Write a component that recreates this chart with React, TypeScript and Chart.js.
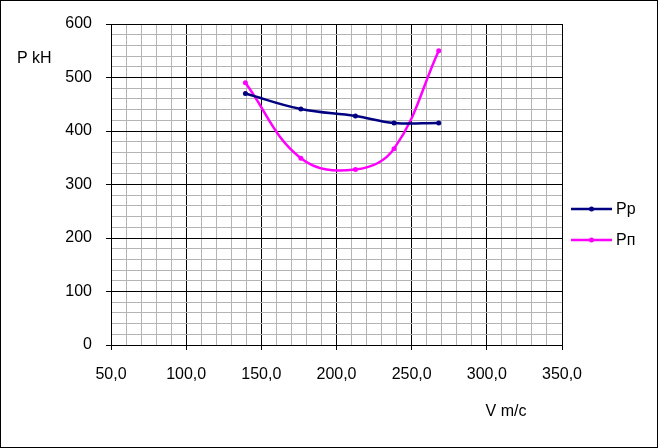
import React, { useEffect, useRef } from "react";
import { Chart, registerables } from "chart.js";

Chart.register(...registerables);

const speedV = [139.4, 176.3, 212.6, 238.3, 268.0];
const seriesPp = [470, 441, 428, 415, 415];
const seriesPn = [490, 349, 328, 367, 550];
const seriesNames = ["Pp", "Pп"];
const seriesColors = ["#000080", "#FF00FF"];
const xTitle = "V m/c";
const yTitle = "P kH";

const FONT = "'Liberation Sans', Arial, sans-serif";

const decorPlugin = {
  id: "decor",
  beforeDraw(chart: any) {
    const ctx = chart.ctx;
    ctx.save();
    ctx.fillStyle = "#ffffff";
    ctx.fillRect(0, 0, chart.width, chart.height);
    ctx.restore();
  },
  afterDraw(chart: any) {
    const ctx = chart.ctx;
    ctx.save();
    ctx.strokeStyle = "#000";
    ctx.lineWidth = 1;
    ctx.strokeRect(0.5, 0.5, chart.width - 1, chart.height - 1);
    ctx.fillStyle = "#000";
    ctx.font = `16px ${FONT}`;
    ctx.textBaseline = "middle";
    ctx.textAlign = "left";
    ctx.fillText(yTitle, 17, 59);
    ctx.textAlign = "center";
    ctx.fillText(xTitle, 506, 412);
    // legend
    const ys = [209, 240];
    seriesNames.forEach((name, i) => {
      const y = ys[i];
      ctx.strokeStyle = seriesColors[i];
      ctx.lineWidth = 2.5;
      ctx.beginPath();
      ctx.moveTo(571, y);
      ctx.lineTo(612, y);
      ctx.stroke();
      ctx.fillStyle = seriesColors[i];
      ctx.beginPath();
      ctx.arc(591.5, y, 2.5, 0, Math.PI * 2);
      ctx.fill();
      ctx.fillStyle = "#000";
      ctx.textAlign = "left";
      ctx.fillText(name, 616, y + 1);
    });
    ctx.restore();
  },
};

export default function App() {
  const ref = useRef<HTMLCanvasElement | null>(null);
  useEffect(() => {
    if (!ref.current) return;
    const mk = (vals: number[]) => speedV.map((x, i) => ({ x, y: vals[i] }));
    const chart = new Chart(ref.current, {
      type: "scatter",
      data: {
        datasets: [seriesPp, seriesPn].map((vals, i) => ({
          label: seriesNames[i],
          data: mk(vals),
          showLine: true,
          borderColor: seriesColors[i],
          backgroundColor: seriesColors[i],
          borderWidth: 2.5,
          pointRadius: 2.5,
          pointBorderWidth: 0,
          tension: 0.4,
        })),
      },
      options: {
        animation: false,
        responsive: false,
        devicePixelRatio: 1,
        layout: { padding: { left: 0, top: 24, right: 96, bottom: 0 } },
        plugins: { legend: { display: false }, tooltip: { enabled: false } },
        scales: {
          x: {
            type: "linear",
            min: 50,
            max: 350,
            afterFit: (s: any) => {
              s.height = 103;
            },
            ticks: {
              stepSize: 10,
              autoSkip: false,
              maxRotation: 0,
              padding: 15,
              color: "#000",
              font: { family: FONT, size: 16 },
              callback: (v: any) =>
                Math.round(v) % 50 === 0 ? Number(v).toFixed(1).replace(".", ",") : "",
            },
            grid: {
              color: (c: any) => (Math.round(c.tick?.value) % 50 === 0 ? "#000" : "#b4b4b4"),
              tickColor: (c: any) =>
                Math.round(c.tick?.value) % 50 === 0 ? "#000" : "rgba(0,0,0,0)",
              tickLength: 5,
              lineWidth: 1,
            },
            border: { color: "#000", width: 1 },
          },
          y: {
            min: 0,
            max: 600,
            afterFit: (s: any) => {
              s.width = 111;
            },
            ticks: {
              stepSize: 20,
              autoSkip: false,
              padding: 14,
              color: "#000",
              font: { family: FONT, size: 16 },
              callback: (v: any) => (Math.round(v) % 100 === 0 ? String(v) : ""),
            },
            grid: {
              color: (c: any) => (Math.round(c.tick?.value) % 100 === 0 ? "#000" : "#b4b4b4"),
              tickColor: (c: any) =>
                Math.round(c.tick?.value) % 100 === 0 ? "#000" : "rgba(0,0,0,0)",
              tickLength: 5,
              lineWidth: 1,
            },
            border: { color: "#000", width: 1 },
          },
        },
      },
      plugins: [decorPlugin],
    });
    return () => chart.destroy();
  }, []);
  return (
    <div style={{ position: "fixed", left: 0, top: 0, width: 658, height: 448 }}>
      <canvas ref={ref} width={658} height={448} />
    </div>
  );
}
